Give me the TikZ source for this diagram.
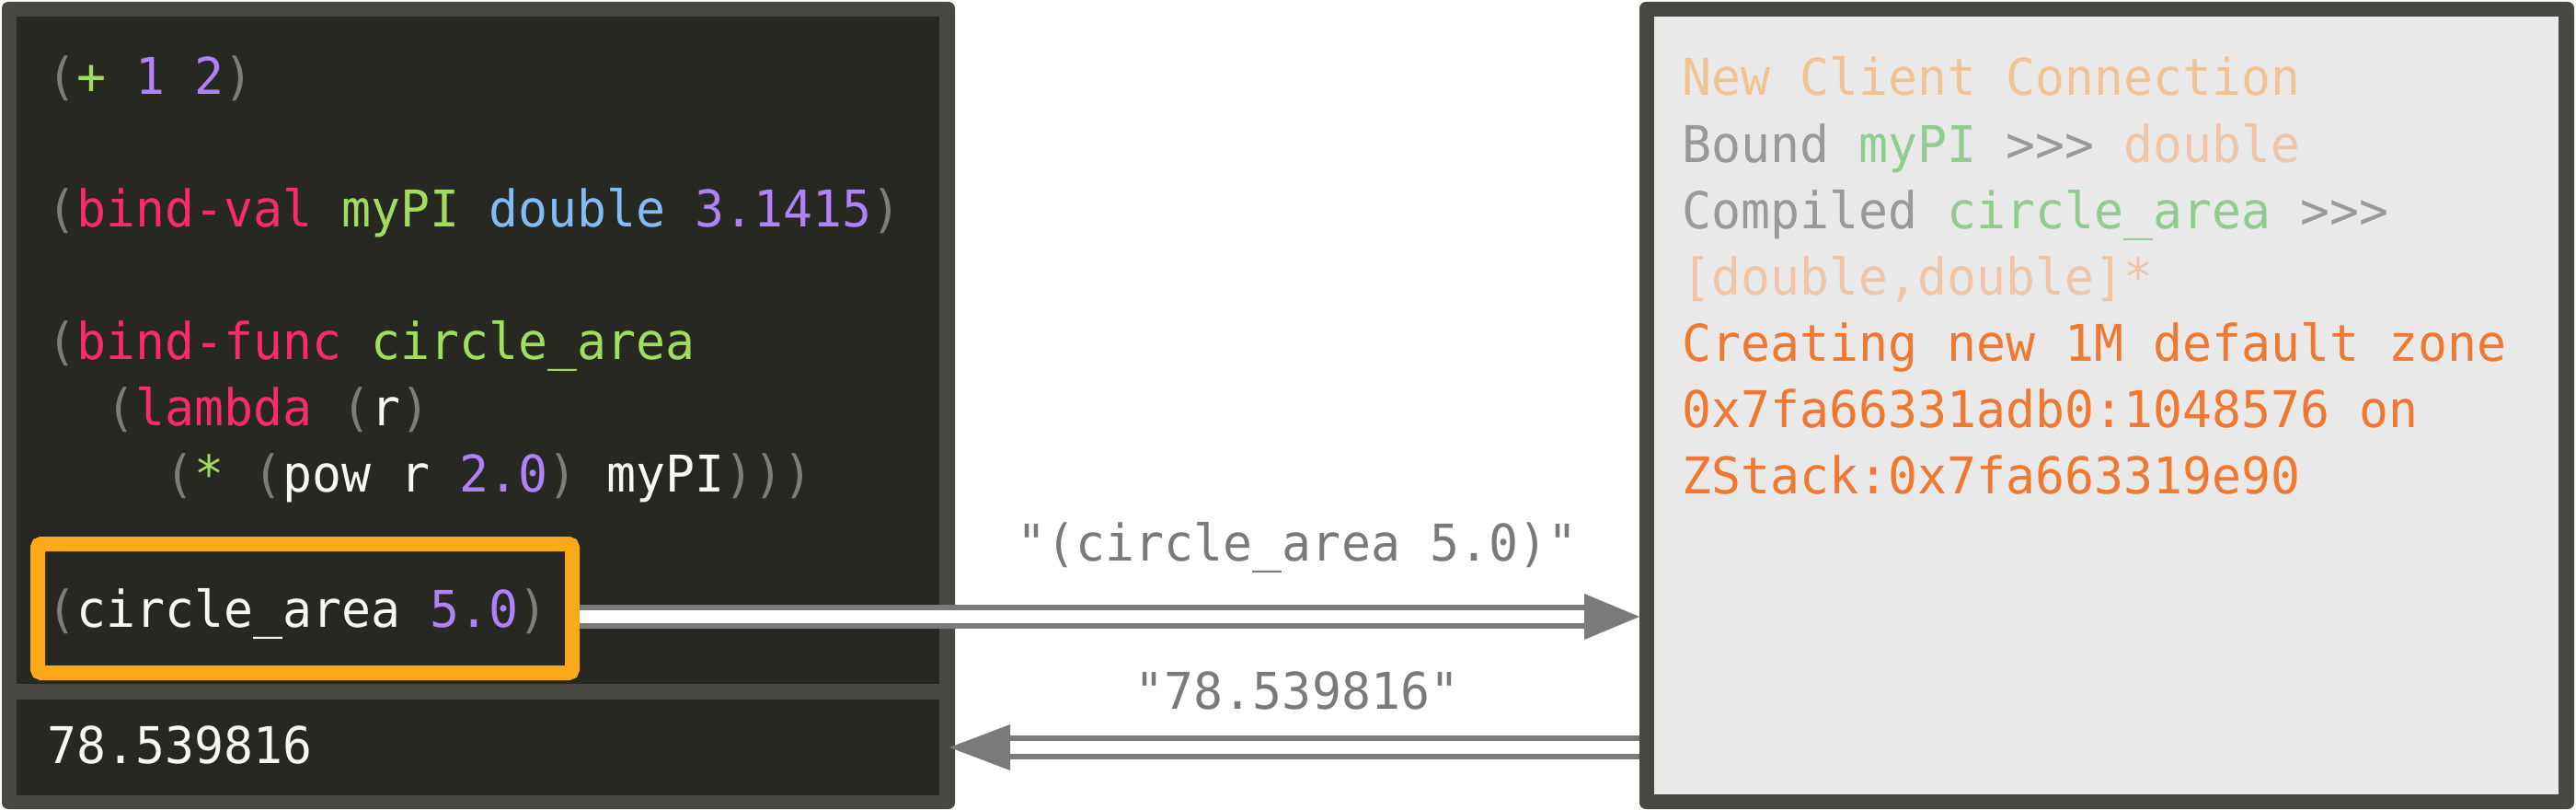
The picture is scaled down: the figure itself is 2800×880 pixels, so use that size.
\documentclass[tikz,border=0pt]{standalone}
\usepackage{fontspec}
\newfontfamily\codefont[FakeStretch=0.967]{DejaVu Sans Mono}
\definecolor{frame}{HTML}{474841}
\definecolor{mbg}{HTML}{272822}
\definecolor{rbg}{HTML}{E9E9E9}
\definecolor{mgray}{HTML}{7D7D7D}
\definecolor{mpink}{HTML}{F92A6E}
\definecolor{mgreen}{HTML}{A2DC5E}
\definecolor{mblue}{HTML}{80BCF5}
\definecolor{mviolet}{HTML}{AE82F8}
\definecolor{mwhite}{HTML}{F8F8F2}
\definecolor{hilite}{HTML}{FBA918}
\definecolor{arrgray}{HTML}{7A7A7A}
\definecolor{peach}{HTML}{F0C492}
\definecolor{peachb}{HTML}{EFC5A6}
\definecolor{rgray}{HTML}{999999}
\definecolor{rgreen}{HTML}{90CC90}
\definecolor{rorange}{HTML}{F07830}
\newcommand\tcQ[1]{\textcolor{mgray}{#1}}
\newcommand\tcP[1]{\textcolor{mpink}{#1}}
\newcommand\tcG[1]{\textcolor{mgreen}{#1}}
\newcommand\tcB[1]{\textcolor{mblue}{#1}}
\newcommand\tcV[1]{\textcolor{mviolet}{#1}}
\newcommand\tcW[1]{\textcolor{mwhite}{#1}}
\begin{document}
\begin{tikzpicture}[x=1pt,y=-1pt,
  code/.style={inner sep=0pt,outer sep=0pt,anchor=base west,font=\codefont\fontsize{55}{72}\selectfont},
  lbl/.style={inner sep=0pt,outer sep=0pt,anchor=base,text=arrgray,font=\codefont\fontsize{55}{72}\selectfont},
  panel/.style={fill=frame,rounded corners=7pt,inner sep=0pt,outer sep=0pt},
  shaft/.style={draw=arrgray,line width=6.3pt,double=white,double distance=13.4pt},
  head/.style={fill=arrgray}]
\useasboundingbox (0,0) rectangle (2800,880);
% left panel
\node[panel,minimum width=1036pt,minimum height=877pt] (lp) at (520,440.5) {};
\fill[mbg] (18,18) rectangle (1021,743);
\fill[mbg] (18,760) rectangle (1021,864);
% right panel
\node[panel,minimum width=1016pt,minimum height=877pt] (rp) at (2290,440.5) {};
\fill[rbg] (1798,18) rectangle (2781,863);
% highlighted box
\node[draw=hilite,line width=16pt,rounded corners=4pt,minimum width=581pt,minimum height=140pt,inner sep=0pt] (cbox) at (331.5,661) {};
% left code
\node[code] (l1) at (51,103) {\tcQ{(}\tcG{+} \tcV{1 2}\tcQ{)}};
\node[code] (l2) at (51,246) {\tcQ{(}\tcP{bind-val} \tcG{myPI} \tcB{double} \tcV{3.1415}\tcQ{)}};
\node[code] (l3) at (51,390) {\tcQ{(}\tcP{bind-func} \tcG{circle\_area}};
\node[code] (l4) at (115,462) {\tcQ{(}\tcP{lambda} \tcQ{(}\tcW{r}\tcQ{)}};
\node[code] (l5) at (179,534) {\tcQ{(}\tcG{*} \tcQ{(}\tcW{pow r} \tcV{2.0}\tcQ{)} \tcW{myPI}\tcQ{)))}};
\node[code] (call) at (51,681) {\tcQ{(}\tcW{circle\_area} \tcV{5.0}\tcQ{)}};
\node[code] (res) at (51,829) {\tcW{78.539816}};
% right log
\node[code] (r1) at (1828,104) {\textcolor{peach}{New Client Connection}};
\node[code] (r2) at (1828,176) {\textcolor{rgray}{Bound} \textcolor{rgreen}{myPI} \textcolor{rgray}{>>>} \textcolor{peachb}{double}};
\node[code] (r3) at (1828,248) {\textcolor{rgray}{Compiled} \textcolor{rgreen}{circle\_area} \textcolor{rgray}{>>>}};
\node[code] (r4) at (1828,320) {\textcolor{peachb}{[double,double]*}};
\node[code] (r5) at (1828,392) {\textcolor{rorange}{Creating new 1M default zone}};
\node[code] (r6) at (1828,464) {\textcolor{rorange}{0x7fa66331adb0:1048576 on}};
\node[code] (r7) at (1828,536) {\textcolor{rorange}{ZStack:0x7fa663319e90}};
% arrows
\coordinate (a1h) at (1722,670);
\draw[shaft] ([yshift=-9pt]cbox.east) -- (a1h);
\fill[head] (1722,645) -- (rp.west |- a1h) -- (1722,695) -- cycle;
\coordinate (a2h) at (1098,812);
\draw[shaft] (rp.west |- a2h) -- (a2h);
\fill[head] (1098,787) -- ([xshift=-6pt]lp.east |- a2h) -- (1098,837) -- cycle;
% labels
\node[lbl] (t1) at (1410,609) {"(circle\_area 5.0)"};
\node[lbl] (t2) at (1410,770) {"78.539816"};
\end{tikzpicture}
\end{document}
